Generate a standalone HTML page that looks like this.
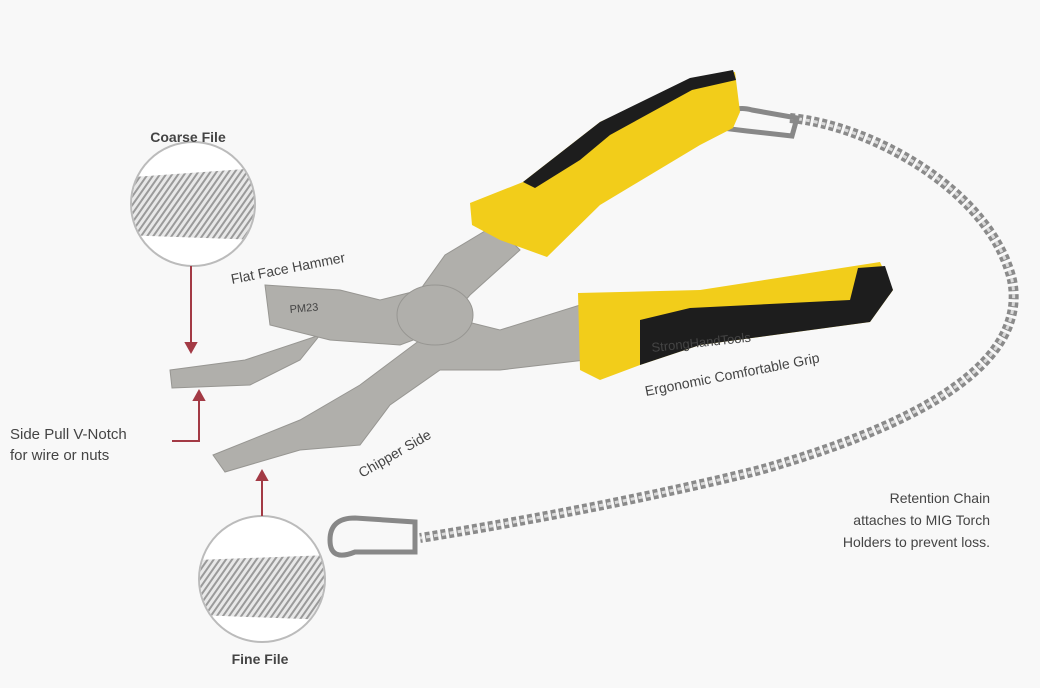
<!DOCTYPE html>
<html><head><meta charset="utf-8"><style>
html,body{margin:0;padding:0;background:#f8f8f8;}
svg{display:block}
text{font-family:"Liberation Sans",sans-serif;fill:#444;}
</style></head><body>
<svg width="1040" height="688" viewBox="0 0 1040 688" xmlns="http://www.w3.org/2000/svg">
<defs>
<pattern id="h" width="5" height="5" patternUnits="userSpaceOnUse" patternTransform="rotate(35)">
<rect width="5" height="5" fill="#e8e8e8"/><rect width="2" height="5" fill="#9a9a9a"/></pattern>
<clipPath id="c1"><circle cx="193" cy="204" r="61"/></clipPath>
<clipPath id="c2"><circle cx="262" cy="579" r="62"/></clipPath>
</defs>
<rect width="1040" height="688" fill="#f8f8f8"/>
<path d="M790,118 C870,125 990,190 1012,280 C1030,370 900,430 760,470 C620,505 470,530 420,538" fill="none" stroke="#8a8a8a" stroke-width="10" stroke-dasharray="5 3"/>
<path d="M790,118 C870,125 990,190 1012,280 C1030,370 900,430 760,470 C620,505 470,530 420,538" fill="none" stroke="#dadada" stroke-width="3" stroke-dasharray="4 4"/>
<g fill="none" stroke="#888" stroke-width="5">
<path d="M330,540 q0,-22 25,-22 l60,4 l0,30 l-60,0 q-25,10 -25,-12z"/>
<path d="M722,128 q5,-25 30,-18 l45,8 l-5,18 l-45,-5z"/>
</g>
<circle cx="193" cy="204" r="62" fill="#fff" stroke="#bbb" stroke-width="2"/>
<g clip-path="url(#c1)"><path d="M120,178 L260,168 L260,240 L120,235z" fill="url(#h)"/></g>
<circle cx="262" cy="579" r="63" fill="#fff" stroke="#bbb" stroke-width="2"/>
<g clip-path="url(#c2)"><path d="M195,560 L330,555 L330,620 L195,615z" fill="url(#h)"/></g>
<g stroke="#a33a45" stroke-width="2" fill="#a33a45">
<line x1="191" y1="266" x2="191" y2="345"/><path d="M186,343 L196,343 L191,352z"/>
<polyline points="172,441 199,441 199,398" fill="none"/><path d="M194,400 L204,400 L199,391z"/>
<line x1="262" y1="516" x2="262" y2="478"/><path d="M257,480 L267,480 L262,471z"/>
</g>
<g fill="#b0afab" stroke="#979692" stroke-width="1">
<path d="M170,370 L245,360 L320,335 L300,360 L250,385 L172,388z"/>
<path d="M265,285 L340,290 L380,300 L420,290 L445,255 L495,225 L520,250 L470,295 L440,330 L400,345 L330,340 L270,325z"/>
<path d="M213,455 L300,420 L360,385 L420,340 L460,320 L500,330 L580,305 L585,360 L500,370 L440,370 L390,405 L360,445 L300,450 L225,472z"/>
<ellipse cx="435" cy="315" rx="38" ry="30"/>
</g>
<path d="M470,203 L523,182 L600,122 L690,80 L735,72 L740,112 L733,128 L700,145 L600,205 L547,257 L500,240 L472,225z" fill="#f2cd1a"/>
<path d="M523,182 L600,122 L690,78 L733,70 L736,80 L692,90 L610,135 L580,160 L535,188z" fill="#1d1d1d"/>
<path d="M578,293 L700,290 L880,262 L893,290 L870,322 L700,345 L640,365 L600,380 L580,370z" fill="#f2cd1a"/>
<path d="M640,320 L690,308 L850,300 L858,268 L885,266 L893,290 L870,322 L700,345 L640,365z" fill="#1d1d1d"/>
<text x="652" y="352" font-size="13" fill="#8a7a10" transform="rotate(-6 652 352)">StrongHandTools</text>
<text x="188" y="142" font-size="14" font-weight="bold" text-anchor="middle" fill="#555">Coarse File</text>
<text x="260" y="664" font-size="14" font-weight="bold" text-anchor="middle" fill="#555">Fine File</text>
<text x="10" y="439" font-size="15">Side Pull V-Notch</text>
<text x="10" y="460" font-size="15">for wire or nuts</text>
<text x="232" y="284" font-size="14" transform="rotate(-11 232 284)">Flat Face Hammer</text>
<text x="290" y="313" font-size="11" fill="#666" transform="rotate(-5 290 313)">PM23</text>
<text x="646" y="396" font-size="14" transform="rotate(-11 646 396)">Ergonomic Comfortable Grip</text>
<text x="362" y="478" font-size="14" transform="rotate(-30 362 478)">Chipper Side</text>
<text x="990" y="503" font-size="14" text-anchor="end">Retention Chain</text>
<text x="990" y="525" font-size="14" text-anchor="end">attaches to MIG Torch</text>
<text x="990" y="547" font-size="14" text-anchor="end">Holders to prevent loss.</text>
</svg>
</body></html>
